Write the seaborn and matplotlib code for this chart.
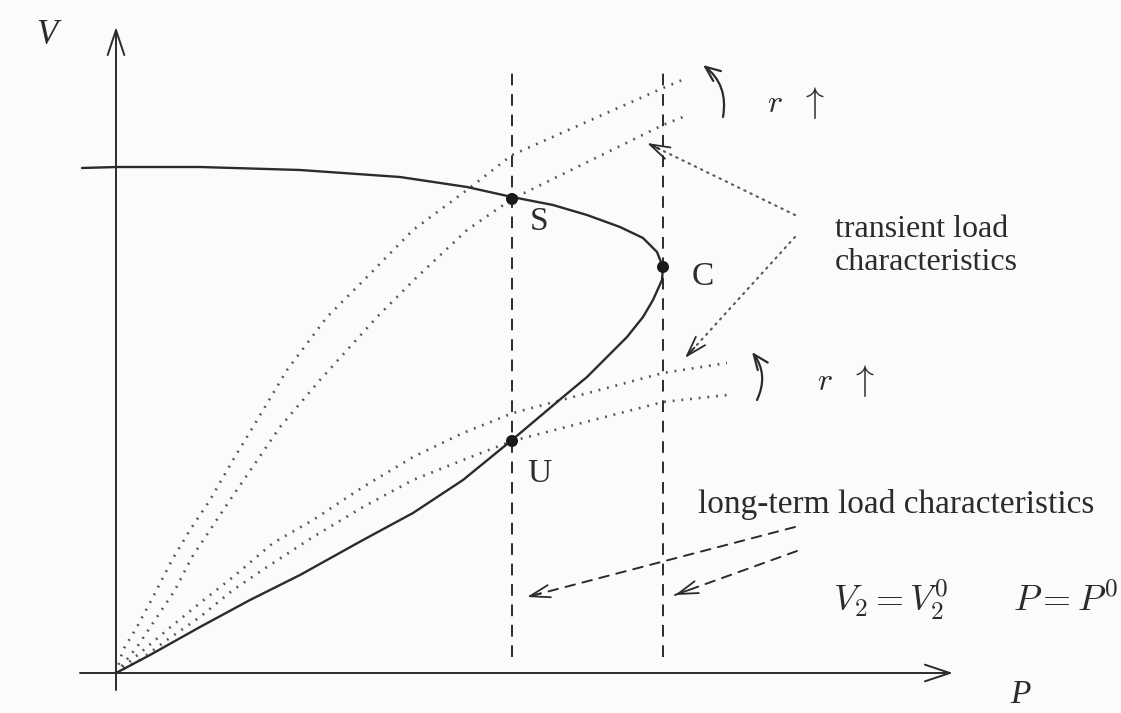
import seaborn as sns
import matplotlib.pyplot as plt

# PV nose curve, upper branch -> tip C -> lower branch down to the origin
nose_p = [-34, 1, 84, 184, 284, 351, 396, 437, 471, 504, 527, 541, 547, 546, 537, 527,
          511, 491, 471, 447, 396, 347, 297, 247, 184, 134, 84, 34, 0]
nose_v = [505, 506, 506, 503, 496, 486, 476, 468, 458, 446, 435, 421, 406, 393, 373, 356,
          336, 316, 296, 276, 233, 193, 160, 133, 98, 73, 46, 18, 0]

# transient load characteristics (dotted), two through S, two through U
tr1_p = [0, 7, 21, 37, 56, 74, 94, 117, 137, 171, 211, 251, 297, 351, 396, 547, 571]
tr1_v = [0, 23, 46, 76, 113, 143, 173, 213, 246, 303, 356, 396, 443, 483, 518, 585, 595]
tr2_p = [0, 21, 39, 59, 76, 94, 114, 164, 181, 204, 261, 301, 351, 396, 547, 572]
tr2_v = [0, 26, 53, 83, 116, 143, 173, 246, 266, 293, 356, 396, 443, 474, 548, 558]
tr3_p = [0, 24, 51, 84, 117, 157, 197, 247, 297, 347, 397, 547, 611]
tr3_v = [0, 20, 43, 70, 96, 130, 153, 186, 216, 240, 260, 300, 310]
tr4_p = [0, 24, 51, 84, 117, 151, 177, 197, 247, 297, 347, 396, 547, 611]
tr4_v = [0, 13, 33, 56, 83, 106, 123, 136, 166, 193, 213, 232, 271, 278]

# long-term load characteristics P = P0 (vertical dashed)
lt_p = [396, 547]
lt_v = [16, 606]

# operating points
pt_names = ["S", "C", "U"]
pt_p = [396, 547, 396]
pt_v = [474, 406, 232]

ink = "#2b2b2b"
dots = "#555555"

sns.set_theme(style="white")
plt.rcParams["mathtext.fontset"] = "cm"
plt.rcParams["font.family"] = ["Liberation Serif", "DejaVu Serif"]

fig = plt.figure(figsize=(11.21, 7.13), dpi=100, facecolor="#fbfbfb")
ax = fig.add_axes([0, 0, 1, 1])
ax.set_facecolor("#fbfbfb")
ax.set_xlim(-116, 1005)
ax.set_ylim(-40, 673)
ax.axis("off")

# axes with arrows
axis_arrow = dict(arrowstyle="->,head_length=0.9,head_width=0.3", lw=1.4,
                  color=ink, mutation_scale=20, shrinkA=0, shrinkB=0)
ax.annotate("", xy=(0, 646), xytext=(0, -17), arrowprops=axis_arrow)
ax.annotate("", xy=(837, 0), xytext=(-36, 0), arrowprops=axis_arrow)
ax.text(-69, 638, "V", fontsize=25, fontstyle="italic", ha="center", va="center", color=ink)
ax.text(904, -22, "P", fontsize=24, fontstyle="italic", ha="center", va="center", color=ink)

# dotted transient characteristics
for tp, tv in [(tr1_p, tr1_v), (tr2_p, tr2_v), (tr3_p, tr3_v), (tr4_p, tr4_v)]:
    sns.lineplot(x=tp, y=tv, ax=ax, sort=False, estimator=None, color=dots,
                 lw=1.9, linestyle=(0, (0.7, 2.6)))

# vertical dashed lines
for p in lt_p:
    sns.lineplot(x=[p, p], y=lt_v, ax=ax, sort=False, estimator=None, color=ink,
                 lw=1.4, linestyle=(0, (6, 4.5)))

# nose curve
sns.lineplot(x=nose_p, y=nose_v, ax=ax, sort=False, estimator=None, color=ink, lw=1.7)

sns.scatterplot(x=pt_p, y=pt_v, ax=ax, color="#1a1a1a", s=75, edgecolor="none", zorder=5)
for name, dx, dy in zip(pt_names, [27, 40, 27], [-23, -10, -33]):
    i = pt_names.index(name)
    ax.text(pt_p[i] + dx, pt_v[i] + dy, name, fontsize=24, ha="center", va="center", color=ink)

# labels
ax.text(719, 427, "transient load\ncharacteristics", fontsize=23, ha="left",
        va="center", color=ink, linespacing=1.2)
ax.text(582, 168, "long-term load characteristics", fontsize=24, ha="left",
        va="center", color=ink)
ax.text(717, 73, r"$V_2 = V_2^0 \qquad P = P^0$", fontsize=26, ha="left",
        va="center", color=ink)
for rx, ry in [(651, 568), (701, 290)]:
    ax.text(rx, ry, "$r$", fontsize=23, ha="left", va="center", color=ink)
    ax.text(rx + 32, ry + 2, r"$\uparrow$", fontsize=26, ha="left", va="center", color=ink)

# curved "r increases" arrows
curve_arrow = dict(arrowstyle="->,head_length=0.6,head_width=0.25", lw=1.6, color=ink,
                   mutation_scale=18, shrinkA=0, shrinkB=0)
ax.annotate("", xy=(587, 608), xytext=(607, 556),
            arrowprops=dict(curve_arrow, connectionstyle="arc3,rad=0.3"))
ax.annotate("", xy=(636, 321), xytext=(641, 273),
            arrowprops=dict(curve_arrow, connectionstyle="arc3,rad=0.3"))


def pointer(start, tip, style):
    ax.annotate("", xy=tip, xytext=start,
                arrowprops=dict(arrowstyle="-", lw=1.5 if style == ":" else 1.4,
                                color=dots if style == ":" else ink,
                                linestyle=(0, (0.7, 2.6)) if style == ":" else (0, (5, 4)),
                                shrinkA=0, shrinkB=0))
    dx, dy = tip[0] - start[0], tip[1] - start[1]
    n = (dx ** 2 + dy ** 2) ** 0.5
    ax.annotate("", xy=tip, xytext=(tip[0] - 14 * dx / n, tip[1] - 14 * dy / n),
                arrowprops=dict(arrowstyle="->,head_length=0.8,head_width=0.25", lw=1.3,
                                color=ink, mutation_scale=18, shrinkA=0, shrinkB=0))


pointer((679, 458), (531, 530), ":")
pointer((679, 436), (569, 315), ":")
pointer((679, 146), (411, 76), "--")
pointer((681, 122), (559, 78), "--")

plt.savefig("out.png", dpi=100, facecolor=fig.get_facecolor())
